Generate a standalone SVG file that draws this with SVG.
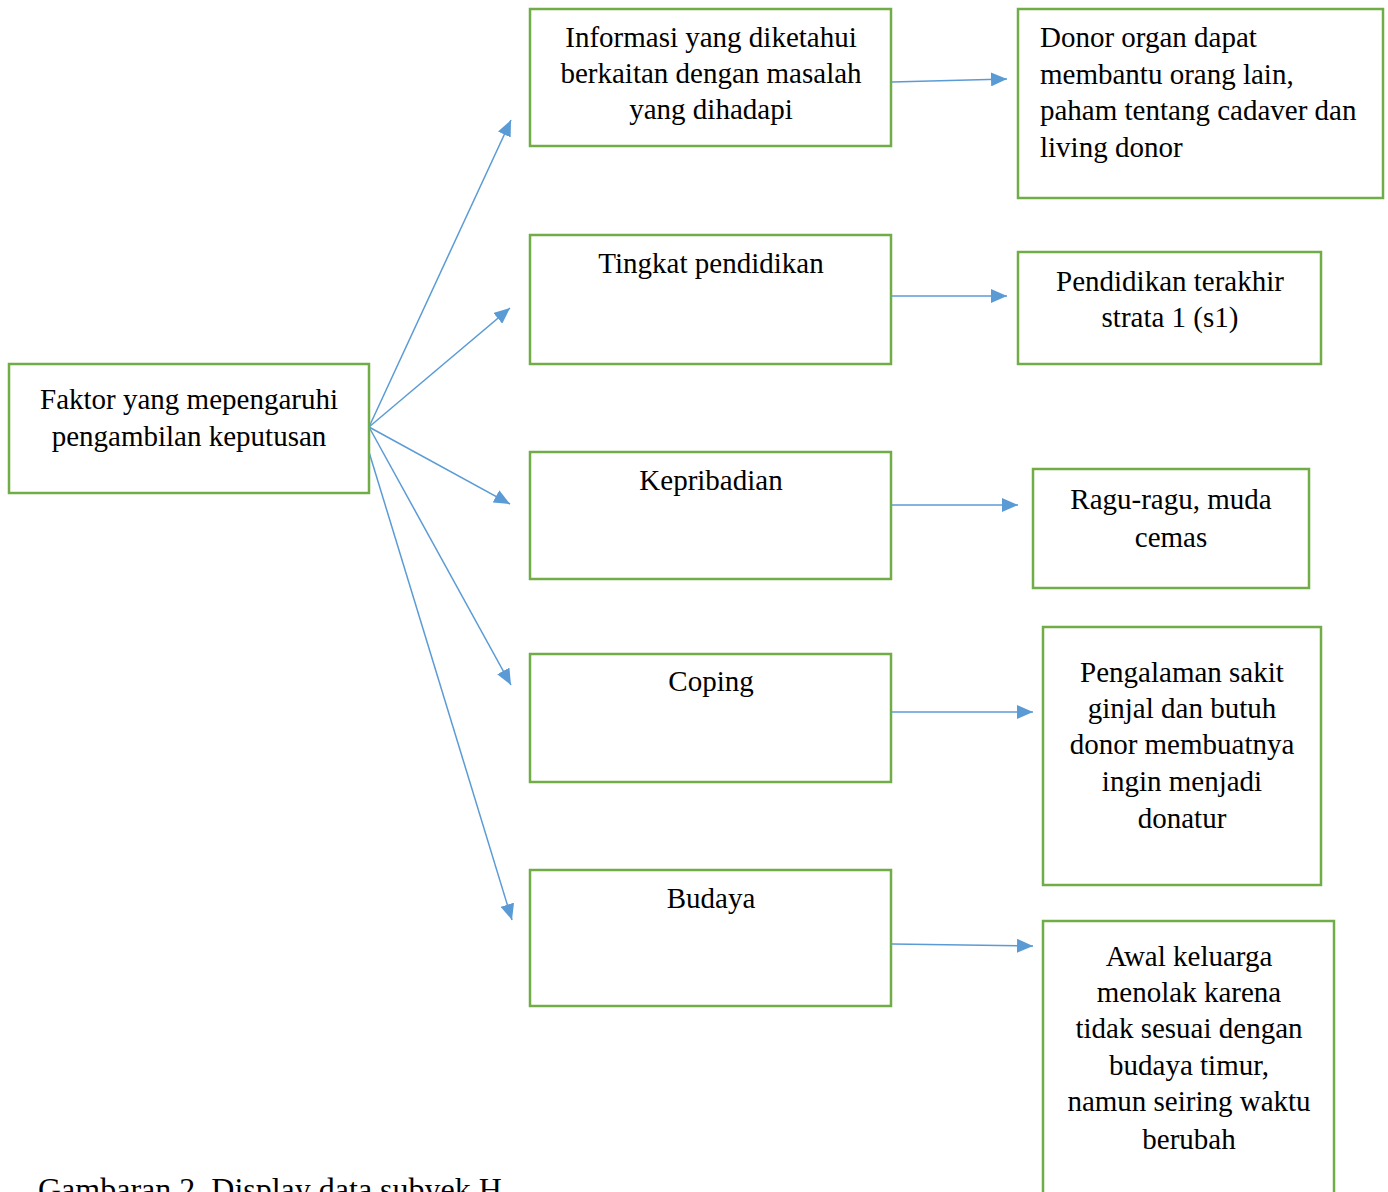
<svg xmlns="http://www.w3.org/2000/svg" width="1388" height="1192" viewBox="0 0 1388 1192">
<style>
.box{fill:#fff;stroke:#70AD47;stroke-width:2.5}
.t{font-family:"Liberation Serif","Times New Roman",serif;font-size:29px;fill:#000}
.c{text-anchor:middle}
.cap{font-family:"Liberation Serif","Times New Roman",serif;font-size:32px;fill:#000}
.ln{stroke:#5B9BD5;stroke-width:1.5;fill:none;marker-end:url(#ah)}
</style>
<defs>
<marker id="ah" markerUnits="userSpaceOnUse" markerWidth="18" markerHeight="14" refX="16" refY="7" orient="auto">
<path d="M0,0 L16,7 L0,14 Z" fill="#5B9BD5"/>
</marker>
</defs>
<rect width="1388" height="1192" fill="#fff"/>
<g id="connectors">
<line class="ln" x1="369" y1="427" x2="511" y2="120"/>
<line class="ln" x1="369" y1="427" x2="510" y2="308"/>
<line class="ln" x1="369" y1="427" x2="510" y2="504"/>
<line class="ln" x1="369" y1="427" x2="511" y2="685"/>
<line class="ln" x1="369" y1="452" x2="512" y2="920"/>
<line class="ln" x1="892" y1="82" x2="1007" y2="79"/>
<line class="ln" x1="892" y1="296" x2="1007" y2="296"/>
<line class="ln" x1="892" y1="505" x2="1018" y2="505"/>
<line class="ln" x1="892" y1="712" x2="1033" y2="712"/>
<line class="ln" x1="892" y1="944" x2="1033" y2="946"/>
</g>
<g id="faktor">
<rect class="box" x="9" y="364" width="360" height="129"/>
<text class="t c" x="189" y="409">Faktor yang mepengaruhi</text>
<text class="t c" x="189" y="446">pengambilan keputusan</text>
</g>
<g id="informasi">
<rect class="box" x="530" y="9" width="361" height="137"/>
<text class="t c" x="711" y="47">Informasi yang diketahui</text>
<text class="t c" x="711" y="83">berkaitan dengan masalah</text>
<text class="t c" x="711" y="119">yang dihadapi</text>
</g>
<g id="tingkat">
<rect class="box" x="530" y="235" width="361" height="129"/>
<text class="t c" x="711" y="273">Tingkat pendidikan</text>
</g>
<g id="kepribadian">
<rect class="box" x="530" y="452" width="361" height="127"/>
<text class="t c" x="711" y="490">Kepribadian</text>
</g>
<g id="coping">
<rect class="box" x="530" y="654" width="361" height="128"/>
<text class="t c" x="711" y="691">Coping</text>
</g>
<g id="budaya">
<rect class="box" x="530" y="870" width="361" height="136"/>
<text class="t c" x="711" y="908">Budaya</text>
</g>
<g id="donor">
<rect class="box" x="1018" y="9" width="365" height="189"/>
<text class="t" x="1040" y="47">Donor organ dapat</text>
<text class="t" x="1040" y="84">membantu orang lain,</text>
<text class="t" x="1040" y="120">paham tentang cadaver dan</text>
<text class="t" x="1040" y="157">living donor</text>
</g>
<g id="pendidikan">
<rect class="box" x="1018" y="252" width="303" height="112"/>
<text class="t c" x="1170" y="291">Pendidikan terakhir</text>
<text class="t c" x="1170" y="327">strata 1 (s1)</text>
</g>
<g id="ragu">
<rect class="box" x="1033" y="469" width="276" height="119"/>
<text class="t c" x="1171" y="509">Ragu-ragu, muda</text>
<text class="t c" x="1171" y="547">cemas</text>
</g>
<g id="pengalaman">
<rect class="box" x="1043" y="627" width="278" height="258"/>
<text class="t c" x="1182" y="682">Pengalaman sakit</text>
<text class="t c" x="1182" y="718">ginjal dan butuh</text>
<text class="t c" x="1182" y="754">donor membuatnya</text>
<text class="t c" x="1182" y="791">ingin menjadi</text>
<text class="t c" x="1182" y="828">donatur</text>
</g>
<g id="awal">
<rect class="box" x="1043" y="921" width="291" height="290"/>
<text class="t c" x="1189" y="966">Awal keluarga</text>
<text class="t c" x="1189" y="1002">menolak karena</text>
<text class="t c" x="1189" y="1038">tidak sesuai dengan</text>
<text class="t c" x="1189" y="1075">budaya timur,</text>
<text class="t c" x="1189" y="1111">namun seiring waktu</text>
<text class="t c" x="1189" y="1149">berubah</text>
</g>
<text class="cap" x="38" y="1200">Gambaran 2. Display data subyek H</text>
</svg>
